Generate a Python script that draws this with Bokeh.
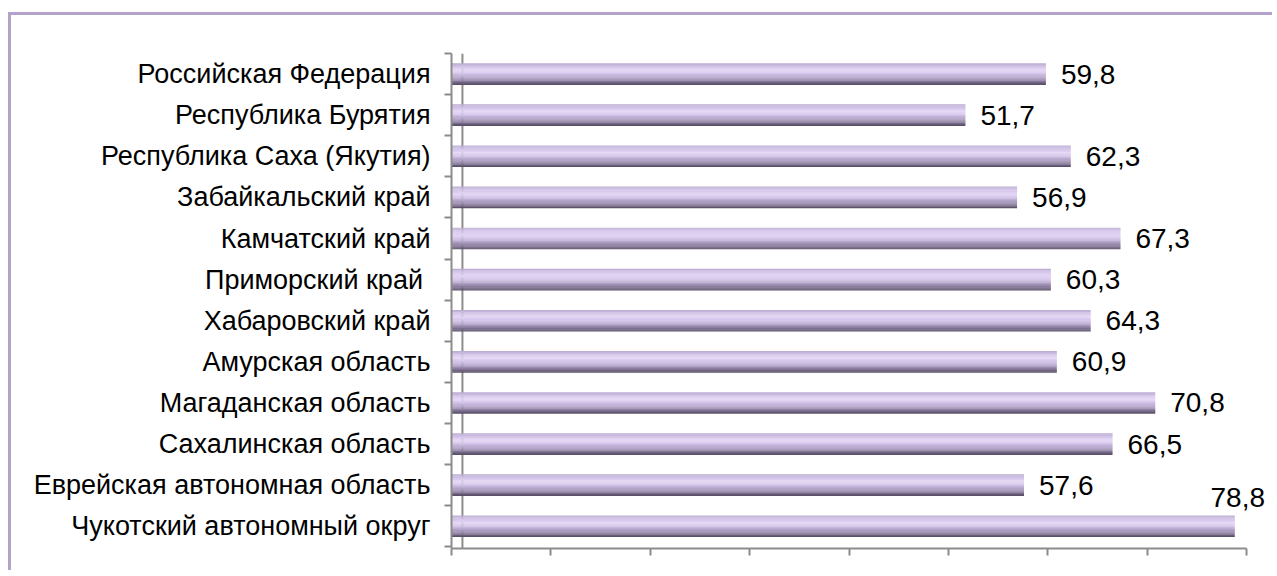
from bokeh.plotting import figure
from bokeh.models import (ColumnDataSource, Range1d, FixedTicker, Span)
from bokeh.transform import dodge
from bokeh.core.properties import value
from bokeh.embed import file_html
from bokeh.resources import INLINE

regions = [
    "Российская Федерация",
    "Республика Бурятия",
    "Республика Саха (Якутия)",
    "Забайкальский край",
    "Камчатский край",
    "Приморский  край",
    "Хабаровский край",
    "Амурская область",
    "Магаданская область",
    "Сахалинская область",
    "Еврейская автономная область",
    "Чукотский автономный округ",
]
values = [59.8, 51.7, 62.3, 56.9, 67.3, 60.3, 64.3, 60.9, 70.8, 66.5, 57.6, 78.8]
x_ticks = [0, 10, 20, 30, 40, 50, 60, 70, 80]

n = len(regions)
ypos = [n - i for i in range(n)]
labels = [f"{v:.1f}".replace(".", ",") for v in values]
vmax = max(values)
x_off = [3 if v == vmax else 15 for v in values]
y_off = [-29 if v == vmax else 0 for v in values]
align = ["center" if v == vmax else "left" for v in values]

src = ColumnDataSource(dict(y=ypos, value=values, label=labels,
                            xo=x_off, yo=y_off, al=align))

p = figure(width=1264, height=558, output_backend="svg", toolbar_location=None,
           x_range=Range1d(0, 82.9), y_range=Range1d(0.46, 12.5),
           min_border_left=440, min_border_right=0, min_border_top=38,
           min_border_bottom=25)
p.styles = {"border-top": "3px solid #b3a2ca", "border-left": "3px solid #b3a2ca",
            "margin-top": "12px", "margin-left": "8px"}
p.outline_line_color = None
p.xgrid.grid_line_color = None
p.ygrid.grid_line_color = None
p.background_fill_color = "white"
p.border_fill_color = "white"

axis_col = "#8c8c8c"

# inner wall line
p.add_layout(Span(location=1.1, dimension="height", line_color=axis_col,
                  line_width=2, level="underlay"))

# cylinder-like shading built from thin stripes
key_cols = [(0xbc, 0xad, 0xd2), (0xd4, 0xc5, 0xea), (0xe3, 0xd5, 0xf5),
            (0xd2, 0xc2, 0xe8), (0xb4, 0xa4, 0xca), (0x8e, 0x80, 0xa2),
            (0x5a, 0x50, 0x6a)]
n_str = 24
stripe_cols = []
for k in range(n_str):
    t = k / (n_str - 1) * (len(key_cols) - 1)
    i = min(int(t), len(key_cols) - 2)
    f = t - i
    c = tuple(round(key_cols[i][j] * (1 - f) + key_cols[i + 1][j] * f) for j in range(3))
    stripe_cols.append("#%02x%02x%02x" % c)

bar_h = 0.52
sh = bar_h / n_str
for k, c in enumerate(stripe_cols):
    off = bar_h / 2 - sh * (k + 0.5)
    p.hbar(y=dodge("y", off, range=p.y_range), left=0, right="value",
           height=sh * 1.3, fill_color=c, line_color=None, source=src)

p.text(x="value", y="y", text="label", x_offset="xo", y_offset="yo",
       text_align="al", text_baseline="middle",
       text_font=value("Liberation Sans"), text_font_size="28px",
       text_color="#000000", source=src)

# x axis (ticks only)
xa = p.xaxis[0]
xa.ticker = FixedTicker(ticks=x_ticks)
xa.bounds = (0, 80)
xa.axis_line_color = axis_col
xa.axis_line_width = 2
xa.major_tick_line_color = axis_col
xa.major_tick_line_width = 2
xa.major_tick_out = 7
xa.major_tick_in = 0
xa.minor_tick_line_color = None
xa.major_label_overrides = {t: "" for t in x_ticks}
xa.major_label_standoff = 0

# y axis
ya = p.yaxis[0]
ya.ticker = FixedTicker(ticks=ypos, minor_ticks=[i + 0.5 for i in range(n + 1)])
ya.major_label_overrides = {y: r for y, r in zip(ypos, regions)}
ya.axis_line_color = axis_col
ya.axis_line_width = 2
ya.major_tick_line_color = None
ya.major_tick_out = 0
ya.major_tick_in = 0
ya.minor_tick_line_color = axis_col
ya.minor_tick_line_width = 2
ya.minor_tick_out = 7
ya.minor_tick_in = 0
ya.major_label_standoff = 14
ya.major_label_text_font = "Liberation Sans"
ya.major_label_text_font_size = "27px"
ya.major_label_text_color = "#000000"

open("out.html", "w").write(file_html(p, INLINE))
